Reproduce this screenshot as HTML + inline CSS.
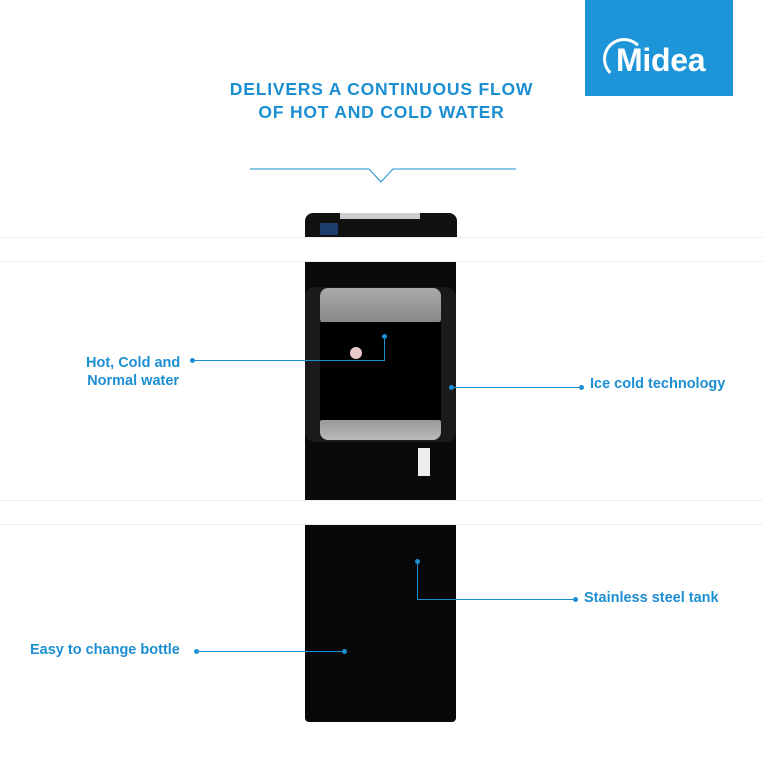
<!DOCTYPE html>
<html><head><style>
body{margin:0;width:763px;height:763px;position:relative;background:#fff;overflow:hidden;font-family:"Liberation Sans",sans-serif}
div{position:absolute;box-sizing:border-box}
.t{color:#1b8fd2;font-weight:bold;font-size:14.5px;white-space:nowrap}
.l{background:#1b8fd2}
.d{width:5px;height:5px;border-radius:50%;background:#1b8fd2}
.band{left:0;width:763px;height:25px;background:#fff;border-top:1px solid #eee;border-bottom:1px solid #eee}
</style></head><body>
<div style="left:585px;top:0;width:148px;height:96px;background:#1e95d8"></div>
<div style="left:603px;top:38px;width:42px;height:42px;border:3px solid #fff;border-radius:50%;border-right-color:transparent;border-bottom-color:transparent"></div>
<div style="left:616px;top:42px;color:#fff;font-weight:bold;font-size:32px;letter-spacing:-0.3px">Midea</div>
<div class="t" style="left:0;width:763px;top:78px;text-align:center;font-size:17.5px;line-height:23px;letter-spacing:0.8px">DELIVERS A CONTINUOUS FLOW<br>OF HOT AND COLD WATER</div>
<svg style="position:absolute;left:250px;top:165px" width="266" height="24"><polyline points="0,4 119,4 131,17 143,4 266,4" fill="none" stroke="#1b8fd2" stroke-width="1"/></svg>
<!-- dispenser -->
<div style="left:305px;top:213px;width:152px;height:25px;background:#111;border-radius:8px 8px 0 0"></div>
<div style="left:340px;top:213px;width:80px;height:6px;background:#ccc"></div>
<div style="left:320px;top:223px;width:18px;height:12px;background:#1c3c6e"></div>
<div class="band" style="top:237px"></div>
<div style="left:305px;top:262px;width:151px;height:238px;background:#0a0a0a"></div>
<div style="left:305px;top:287px;width:151px;height:155px;background:#1a1a1a;border-radius:10px"></div>
<div style="left:320px;top:288px;width:121px;height:35px;background:linear-gradient(#aaa,#888);border-radius:8px 8px 4px 4px"></div>
<div style="left:320px;top:322px;width:121px;height:100px;background:#000"></div>
<div style="left:320px;top:420px;width:121px;height:20px;background:linear-gradient(#999,#bbb);border-radius:2px 2px 8px 8px"></div>
<div style="left:350px;top:347px;width:12px;height:12px;border-radius:50%;background:#e8c8c8"></div>
<div style="left:418px;top:448px;width:12px;height:28px;background:#eee"></div>
<div class="band" style="top:500px"></div>
<div style="left:305px;top:525px;width:151px;height:197px;background:#080808;border-radius:0 0 4px 4px"></div>
<!-- callouts -->
<div class="t" style="left:86px;top:354px;line-height:18px;text-align:center">Hot, Cold and<br>Normal water</div>
<div class="d" style="left:190px;top:358px"></div>
<div class="l" style="left:192px;top:360px;width:193px;height:1px"></div>
<div class="l" style="left:384px;top:337px;width:1px;height:24px"></div>
<div class="d" style="left:382px;top:334px"></div>
<div class="d" style="left:449px;top:385px"></div>
<div class="l" style="left:451px;top:387px;width:130px;height:1px"></div>
<div class="d" style="left:579px;top:385px"></div>
<div class="t" style="left:590px;top:376px">Ice cold technology</div>
<div class="d" style="left:415px;top:559px"></div>
<div class="l" style="left:417px;top:561px;width:1px;height:39px"></div>
<div class="l" style="left:417px;top:599px;width:158px;height:1px"></div>
<div class="d" style="left:573px;top:597px"></div>
<div class="t" style="left:584px;top:590px">Stainless steel tank</div>
<div class="t" style="left:30px;top:642px">Easy to change bottle</div>
<div class="d" style="left:194px;top:649px"></div>
<div class="l" style="left:196px;top:651px;width:148px;height:1px"></div>
<div class="d" style="left:342px;top:649px"></div>
</body></html>
